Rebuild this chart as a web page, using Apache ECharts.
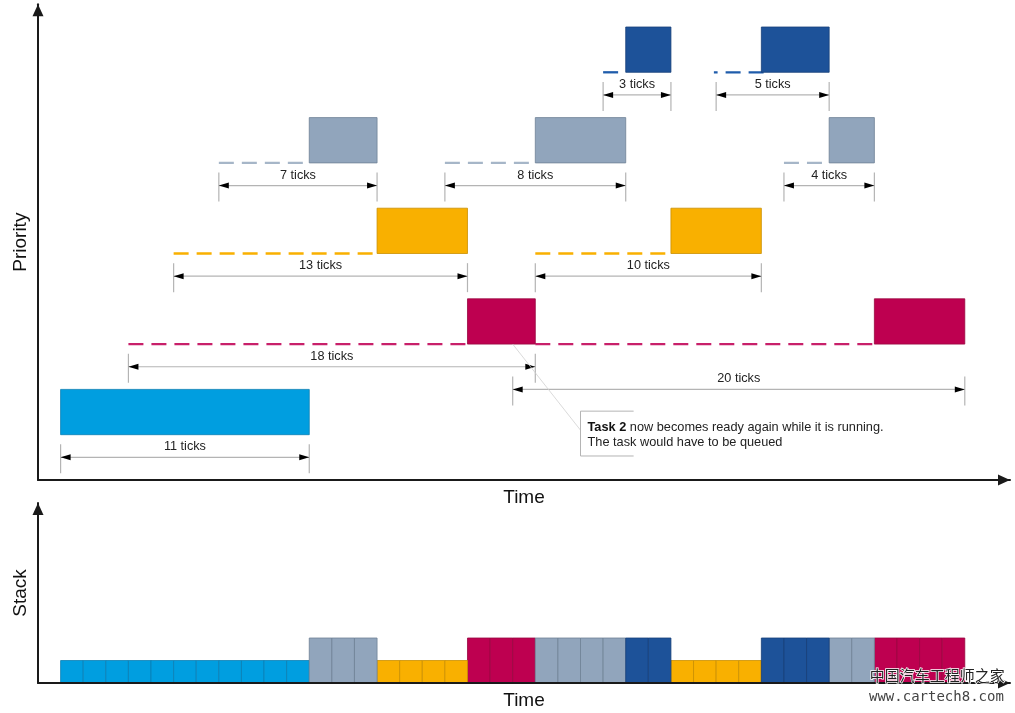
<!DOCTYPE html>
<html>
<head>
<meta charset="utf-8">
<style>html,body{margin:0;padding:0;background:#fff}#main{width:1015px;height:713px}</style>
<script src="https://cdn.jsdelivr.net/npm/echarts@6/dist/echarts.min.js"></script>
</head>
<body>
<div id="main"></div>
<script>
// one entry per task, lowest priority first
const taskNames = ['Task 1', 'Task 2', 'Task 3', 'Task 4', 'Task 5'];
const taskRows = [1, 3, 5, 7, 9];
const stackSlots = [1, 2, 1, 2, 2];
// [from tick, to tick]
const runs = [
    [[0, 11]],
    [[18, 21], [36, 40]],
    [[14, 18], [27, 31]],
    [[11, 14], [21, 25], [34, 36]],
    [[25, 27], [31, 34]]
];
const waits = [
    [],
    [[3, 18], [21, 36]],
    [[5, 14], [21, 27]],
    [[7, 11], [17, 21], [32, 34]],
    [[24, 25], [31.1, 28.9]]
];
// [from tick, to tick, priority height, label]
const spans = [
    [0, 11, 0.5, '11 ticks'],
    [3, 21, 2.5, '18 ticks'],
    [20, 40, 2, '20 ticks'],
    [5, 18, 4.5, '13 ticks'],
    [21, 31, 4.5, '10 ticks'],
    [7, 14, 6.5, '7 ticks'],
    [17, 25, 6.5, '8 ticks'],
    [32, 36, 6.5, '4 ticks'],
    [24, 27, 8.5, '3 ticks'],
    [29, 34, 8.5, '5 ticks']
];
// leader start and the note's bracket, in ticks and priority
const noteLeader = [20, 3, 23, 1.1];
const noteBox = [23, 25.35, 0.53, 1.52];

const fills = ['#009ee0', '#be0050', '#f9b000', '#91a5bc', '#1d5299'];
const edges = ['#0a7fb4', '#98063f', '#c98f00', '#6f8195', '#163f78'];
const dashes = ['#009ee0', '#c8206a', '#f9b000', '#a6b6c8', '#1f5cab'];
const tinyFont = '"Liberation Sans", Arial, sans-serif';

function boxItem(params, api, fill, edge, height) {
    const a = api.coord([api.value(0), api.value(2)]);
    const b = api.coord([api.value(1), api.value(2) + height]);
    return {
        type: 'rect',
        shape: { x: a[0], y: b[1], width: b[0] - a[0], height: a[1] - b[1] },
        style: { fill: fill, stroke: edge, lineWidth: 0.8 }
    };
}

function dashItem(params, api, color) {
    const a = api.coord([api.value(0), api.value(2)]);
    const b = api.coord([api.value(1), api.value(2)]);
    return {
        type: 'line',
        shape: { x1: a[0], y1: a[1], x2: b[0], y2: b[1] },
        style: { stroke: color, lineWidth: 2.3, lineDash: [15, 8] }
    };
}

function spanItem(params, api) {
    const a = api.coord([api.value(0), api.value(2)]);
    const b = api.coord([api.value(1), api.value(2)]);
    const y = a[1];
    const gray = { stroke: '#b4b4b4', lineWidth: 1.2 };
    return {
        type: 'group',
        children: [
            { type: 'line', shape: { x1: a[0], y1: y, x2: b[0], y2: y }, style: gray },
            { type: 'line', shape: { x1: a[0], y1: y - 13, x2: a[0], y2: y + 16 }, style: gray },
            { type: 'line', shape: { x1: b[0], y1: y - 13, x2: b[0], y2: y + 16 }, style: gray },
            { type: 'polygon', shape: { points: [[a[0], y], [a[0] + 10, y - 3], [a[0] + 10, y + 3]] }, style: { fill: '#000' } },
            { type: 'polygon', shape: { points: [[b[0], y], [b[0] - 10, y - 3], [b[0] - 10, y + 3]] }, style: { fill: '#000' } },
            {
                type: 'text',
                style: {
                    x: (a[0] + b[0]) / 2, y: y - 10.5, text: taskLabel(params.dataIndex),
                    align: 'center', verticalAlign: 'middle',
                    font: '12.7px ' + tinyFont, fill: '#222'
                }
            }
        ]
    };
}

function taskLabel(i) {
    return spans[i][3];
}

function noteItem(params, api) {
    const s = api.coord([noteLeader[0], noteLeader[1]]);
    const e = api.coord([noteLeader[2], noteLeader[3]]);
    const lt = api.coord([noteBox[0], noteBox[3]]);
    const rb = api.coord([noteBox[1], noteBox[2]]);
    const gray = { stroke: '#b4b4b4', lineWidth: 1, fill: null };
    return {
        type: 'group',
        children: [
            { type: 'line', shape: { x1: s[0], y1: s[1], x2: e[0], y2: e[1] }, style: { stroke: '#d0d0d0', lineWidth: 0.8 } },
            { type: 'polyline', shape: { points: [[rb[0], lt[1]], [lt[0], lt[1]], [lt[0], rb[1]], [rb[0], rb[1]]] }, style: gray },
            {
                type: 'text',
                style: {
                    x: lt[0] + 7, y: (lt[1] + rb[1]) / 2 + 1,
                    text: '{b|Task 2} now becomes ready again while it is running.\nThe task would have to be queued',
                    verticalAlign: 'middle', font: '12.75px ' + tinyFont, fill: '#222', lineHeight: 15,
                    rich: { b: { fontWeight: 'bold', fontSize: 12.75, fontFamily: tinyFont, fill: '#111' } }
                }
            }
        ]
    };
}

const series = [];
taskNames.forEach(function (name, t) {
    const row = taskRows[t];
    series.push({
        name: name + ' waiting', type: 'custom', xAxisIndex: 0, yAxisIndex: 0, z: 2,
        data: waits[t].map(function (w) { return [w[0], w[1], row]; }),
        encode: { x: [0, 1], y: 2 },
        renderItem: function (params, api) { return dashItem(params, api, dashes[t]); }
    });
    series.push({
        name: name, type: 'custom', xAxisIndex: 0, yAxisIndex: 0, z: 3,
        data: runs[t].map(function (r) { return [r[0], r[1], row]; }),
        encode: { x: [0, 1], y: 2 },
        renderItem: function (params, api) { return boxItem(params, api, fills[t], edges[t], 1); }
    });
    // stack use, one cell per tick
    const cells = [];
    runs[t].forEach(function (r) {
        for (let i = r[0]; i < r[1]; i++) cells.push([i, i + 1, 0]);
    });
    series.push({
        name: name + ' stack', type: 'custom', xAxisIndex: 1, yAxisIndex: 1, z: 3,
        data: cells,
        encode: { x: [0, 1], y: 2 },
        renderItem: function (params, api) { return boxItem(params, api, fills[t], edges[t], stackSlots[t]); }
    });
});
series.push({
    name: 'spans', type: 'custom', xAxisIndex: 0, yAxisIndex: 0, z: 4,
    data: spans.map(function (s) { return [s[0], s[1], s[2]]; }),
    encode: { x: [0, 1], y: 2 },
    renderItem: spanItem
});
series.push({
    name: 'note', type: 'custom', xAxisIndex: 0, yAxisIndex: 0, z: 4,
    data: [noteBox],
    encode: { x: [0, 1], y: 2 },
    renderItem: noteItem
});

const arrowLine = {
    show: true, onZero: false, symbol: ['none', 'triangle'], symbolSize: [11, 12], symbolOffset: [0, -6],
    lineStyle: { color: '#1a1a1a', width: 2 }
};

function xAxis(gridIndex) {
    return {
        type: 'value', gridIndex: gridIndex, min: -1, max: 42, z: 5,
        name: 'Time', nameLocation: 'middle', nameGap: 8,
        nameTextStyle: { fontSize: 19, fontFamily: tinyFont, color: '#111' },
        axisLine: arrowLine,
        axisTick: { show: false }, axisLabel: { show: false }, splitLine: { show: false }
    };
}

function yAxis(gridIndex, name, max) {
    return {
        type: 'value', gridIndex: gridIndex, min: 0, max: max,
        name: name, nameLocation: 'middle', nameGap: 8,
        nameTextStyle: { fontSize: 19, fontFamily: tinyFont, color: '#111' },
        axisLine: arrowLine,
        axisTick: { show: false }, axisLabel: { show: false }, splitLine: { show: false }
    };
}

const myChart = echarts.init(document.getElementById('main'));
myChart.setOption({
    animation: false,
    backgroundColor: '#fff',
    grid: [
        { left: 38, top: 4.35, width: 972, height: 475.65, outerBoundsMode: 'none' },
        { left: 38, top: 503, width: 972, height: 180, outerBoundsMode: 'none' }
    ],
    xAxis: [xAxis(0), xAxis(1)],
    yAxis: [yAxis(0, 'Priority', 10.5), yAxis(1, 'Stack', 8)],
    series: series,
    graphic: [
        {
            type: 'text', left: 869, top: 667, z: 10,
            style: { text: '中国汽车工程师之家', font: '15px "Noto Sans CJK SC"', fill: '#222', stroke: '#fff', lineWidth: 1.5 }
        },
        {
            type: 'text', left: 869, top: 690, z: 10,
            style: { text: 'www.cartech8.com', font: '14px "DejaVu Sans Mono"', fill: '#444' }
        }
    ]
});
</script>
</body>
</html>
